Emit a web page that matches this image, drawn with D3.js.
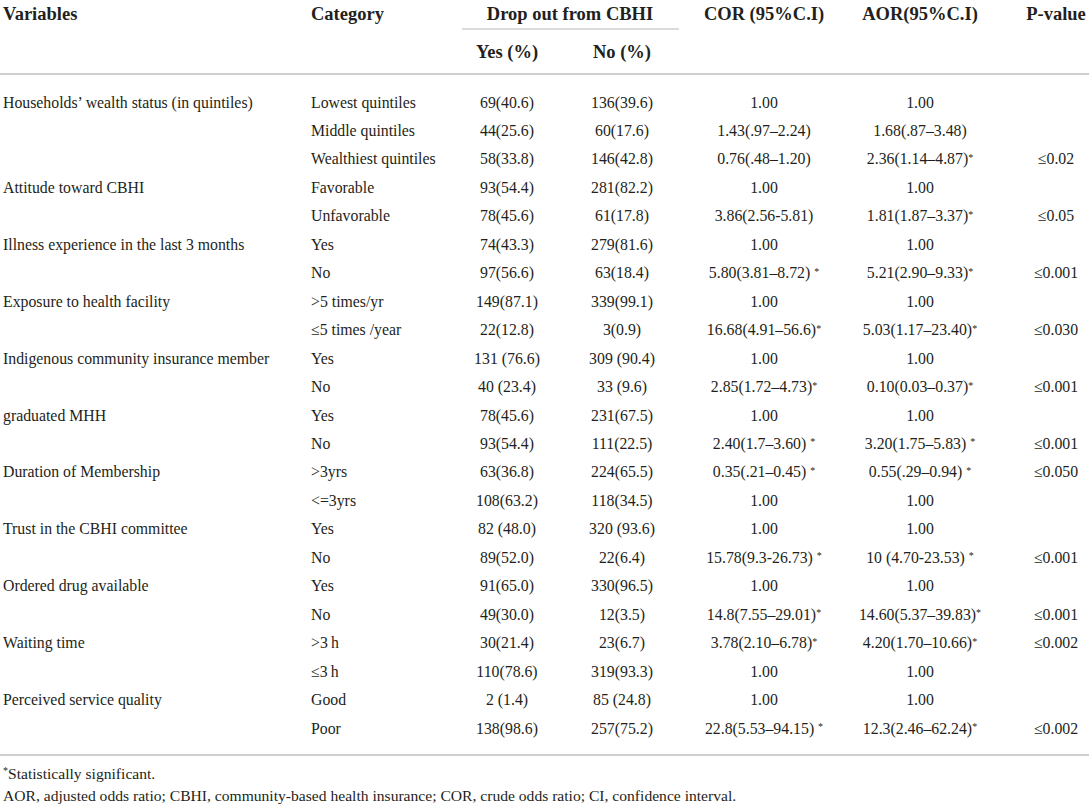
<!DOCTYPE html>
<html>
<head>
<meta charset="utf-8">
<script src="https://cdn.jsdelivr.net/npm/d3@7"></script>
<style>
  body { margin: 0; background: #fff; }
  text { font-family: "Liberation Serif", "Times New Roman", serif; fill: #231f20; }
</style>
</head>
<body>
<div id="table"></div>
<script>
const width = 1089;
const height = 804;

// one entry per table row
const variables = [
    "Households\u2019 wealth status (in quintiles)", "", "",
    "Attitude toward CBHI", "",
    "Illness experience in the last 3 months", "",
    "Exposure to health facility", "",
    "Indigenous community insurance member", "",
    "graduated MHH", "",
    "Duration of Membership", "",
    "Trust in the CBHI committee", "",
    "Ordered drug available", "",
    "Waiting time", "",
    "Perceived service quality", ""
];
const categories = [
    "Lowest quintiles", "Middle quintiles", "Wealthiest quintiles",
    "Favorable", "Unfavorable",
    "Yes", "No",
    ">5 times/yr", "\u22645 times /year",
    "Yes", "No",
    "Yes", "No",
    ">3yrs", "<=3yrs",
    "Yes", "No",
    "Yes", "No",
    ">3\u2009h", "\u22643\u2009h",
    "Good", "Poor"
];
const dropYes = [
    "69(40.6)", "44(25.6)", "58(33.8)", "93(54.4)", "78(45.6)", "74(43.3)", "97(56.6)",
    "149(87.1)", "22(12.8)", "131 (76.6)", "40 (23.4)", "78(45.6)", "93(54.4)",
    "63(36.8)", "108(63.2)", "82 (48.0)", "89(52.0)", "91(65.0)", "49(30.0)",
    "30(21.4)", "110(78.6)", "2 (1.4)", "138(98.6)"
];
const dropNo = [
    "136(39.6)", "60(17.6)", "146(42.8)", "281(82.2)", "61(17.8)", "279(81.6)", "63(18.4)",
    "339(99.1)", "3(0.9)", "309 (90.4)", "33 (9.6)", "231(67.5)", "111(22.5)",
    "224(65.5)", "118(34.5)", "320 (93.6)", "22(6.4)", "330(96.5)", "12(3.5)",
    "23(6.7)", "319(93.3)", "85 (24.8)", "257(75.2)"
];
const cor = [
    "1.00", "1.43(.97\u20132.24)", "0.76(.48\u20131.20)", "1.00", "3.86(2.56-5.81)",
    "1.00", "5.80(3.81\u20138.72) *", "1.00", "16.68(4.91\u201356.6)*", "1.00",
    "2.85(1.72\u20134.73)*", "1.00", "2.40(1.7\u20133.60) *", "0.35(.21\u20130.45) *", "1.00",
    "1.00", "15.78(9.3-26.73) *", "1.00", "14.8(7.55\u201329.01)*", "3.78(2.10\u20136.78)*",
    "1.00", "1.00", "22.8(5.53\u201394.15) *"
];
const aor = [
    "1.00", "1.68(.87\u20133.48)", "2.36(1.14\u20134.87)*", "1.00", "1.81(1.87\u20133.37)*",
    "1.00", "5.21(2.90\u20139.33)*", "1.00", "5.03(1.17\u201323.40)*", "1.00",
    "0.10(0.03\u20130.37)*", "1.00", "3.20(1.75\u20135.83) *", "0.55(.29\u20130.94) *", "1.00",
    "1.00", "10 (4.70-23.53) *", "1.00", "14.60(5.37\u201339.83)*", "4.20(1.70\u201310.66)*",
    "1.00", "1.00", "12.3(2.46\u201362.24)*"
];
const pValues = [
    "", "", "\u22640.02", "", "\u22640.05", "", "\u22640.001", "", "\u22640.030", "",
    "\u22640.001", "", "\u22640.001", "\u22640.050", "", "", "\u22640.001", "",
    "\u22640.001", "\u22640.002", "", "", "\u22640.002"
];

const headerTop = ["Variables", "Category", "Drop out from CBHI", "COR (95%C.I)", "AOR(95%C.I)", "P-value"];
const headerSub = ["Yes (%)", "No (%)"];
const footnotes = [
    "*Statistically significant.",
    "AOR, adjusted odds ratio; CBHI, community-based health insurance; COR, crude odds ratio; CI, confidence interval."
];

const columns = ["variable", "category", "yes", "no", "cor", "aor", "p"];
const x = d3.scaleOrdinal()
    .domain(columns.concat(["drop"]))
    .range([3, 311, 507, 622, 764, 920, 1056, 570]);
const anchor = d3.scaleOrdinal()
    .domain(columns)
    .range(["start", "start", "middle", "middle", "middle", "middle", "middle"]);

const y = d3.scaleLinear()
    .domain([0, categories.length - 1])
    .range([102, 728]);

const rows = categories.map((c, i) => ({
    variable: variables[i],
    category: c,
    yes: dropYes[i],
    no: dropNo[i],
    cor: cor[i],
    aor: aor[i],
    p: pValues[i]
}));

const svg = d3.select("#table")
    .append("svg")
    .attr("width", width)
    .attr("height", height);

// rules
const ruleColor = "#cfcfcf";
svg.append("line")
    .attr("x1", 462).attr("x2", 679)
    .attr("y1", 29).attr("y2", 29)
    .attr("stroke", ruleColor).attr("stroke-width", 1.6);
svg.append("line")
    .attr("x1", 0).attr("x2", width)
    .attr("y1", 74).attr("y2", 74)
    .attr("stroke", ruleColor).attr("stroke-width", 2);
svg.append("line")
    .attr("x1", 0).attr("x2", width)
    .attr("y1", 755).attr("y2", 755)
    .attr("stroke", ruleColor).attr("stroke-width", 2);

// header
const topKeys = ["variable", "category", "drop", "cor", "aor", "p"];
svg.selectAll(".head")
    .data(headerTop)
    .enter()
    .append("text")
    .attr("class", "head")
    .attr("x", (d, i) => x(topKeys[i]))
    .attr("y", 14)
    .attr("dy", "0.35em")
    .attr("text-anchor", (d, i) => i < 2 ? "start" : "middle")
    .style("font-weight", "bold")
    .style("font-size", "18.5px")
    .text(d => d);

svg.selectAll(".sub")
    .data(headerSub)
    .enter()
    .append("text")
    .attr("class", "sub")
    .attr("x", (d, i) => x(["yes", "no"][i]))
    .attr("y", 52)
    .attr("dy", "0.35em")
    .attr("text-anchor", "middle")
    .style("font-weight", "bold")
    .style("font-size", "18.5px")
    .text(d => d);

// body cells, trailing asterisk drawn as a small raised mark
function writeCell(sel, value) {
    const m = value.match(/^(.*?)(\s?\*)$/);
    if (m) {
        sel.append("tspan").text(m[1] + (m[2].length > 1 ? " " : ""));
        sel.append("tspan")
            .attr("dy", "-0.35em")
            .style("font-size", "10px")
            .text("*");
    } else {
        sel.text(value);
    }
}

const rowG = svg.selectAll(".row")
    .data(rows)
    .enter()
    .append("g")
    .attr("class", "row")
    .attr("transform", (d, i) => `translate(0,${y(i)})`);

columns.forEach(col => {
    rowG.append("text")
        .attr("x", x(col))
        .attr("dy", "0.35em")
        .attr("text-anchor", anchor(col))
        .style("font-size", "15.8px")
        .each(function(d) { writeCell(d3.select(this), d[col]); });
});

// footnotes
svg.selectAll(".foot")
    .data(footnotes)
    .enter()
    .append("text")
    .attr("class", "foot")
    .attr("x", 3)
    .attr("y", (d, i) => 777 + i * 19)
    .attr("dy", "0.35em")
    .style("font-size", "15.6px")
    .each(function(d) {
        const t = d3.select(this);
        if (d.startsWith("*")) {
            t.append("tspan").attr("dy", "-0.3em").style("font-size", "10px").text("*");
            t.append("tspan").attr("dy", "0.3em").text(d.slice(1));
        } else {
            t.text(d);
        }
    });
</script>
</body>
</html>
